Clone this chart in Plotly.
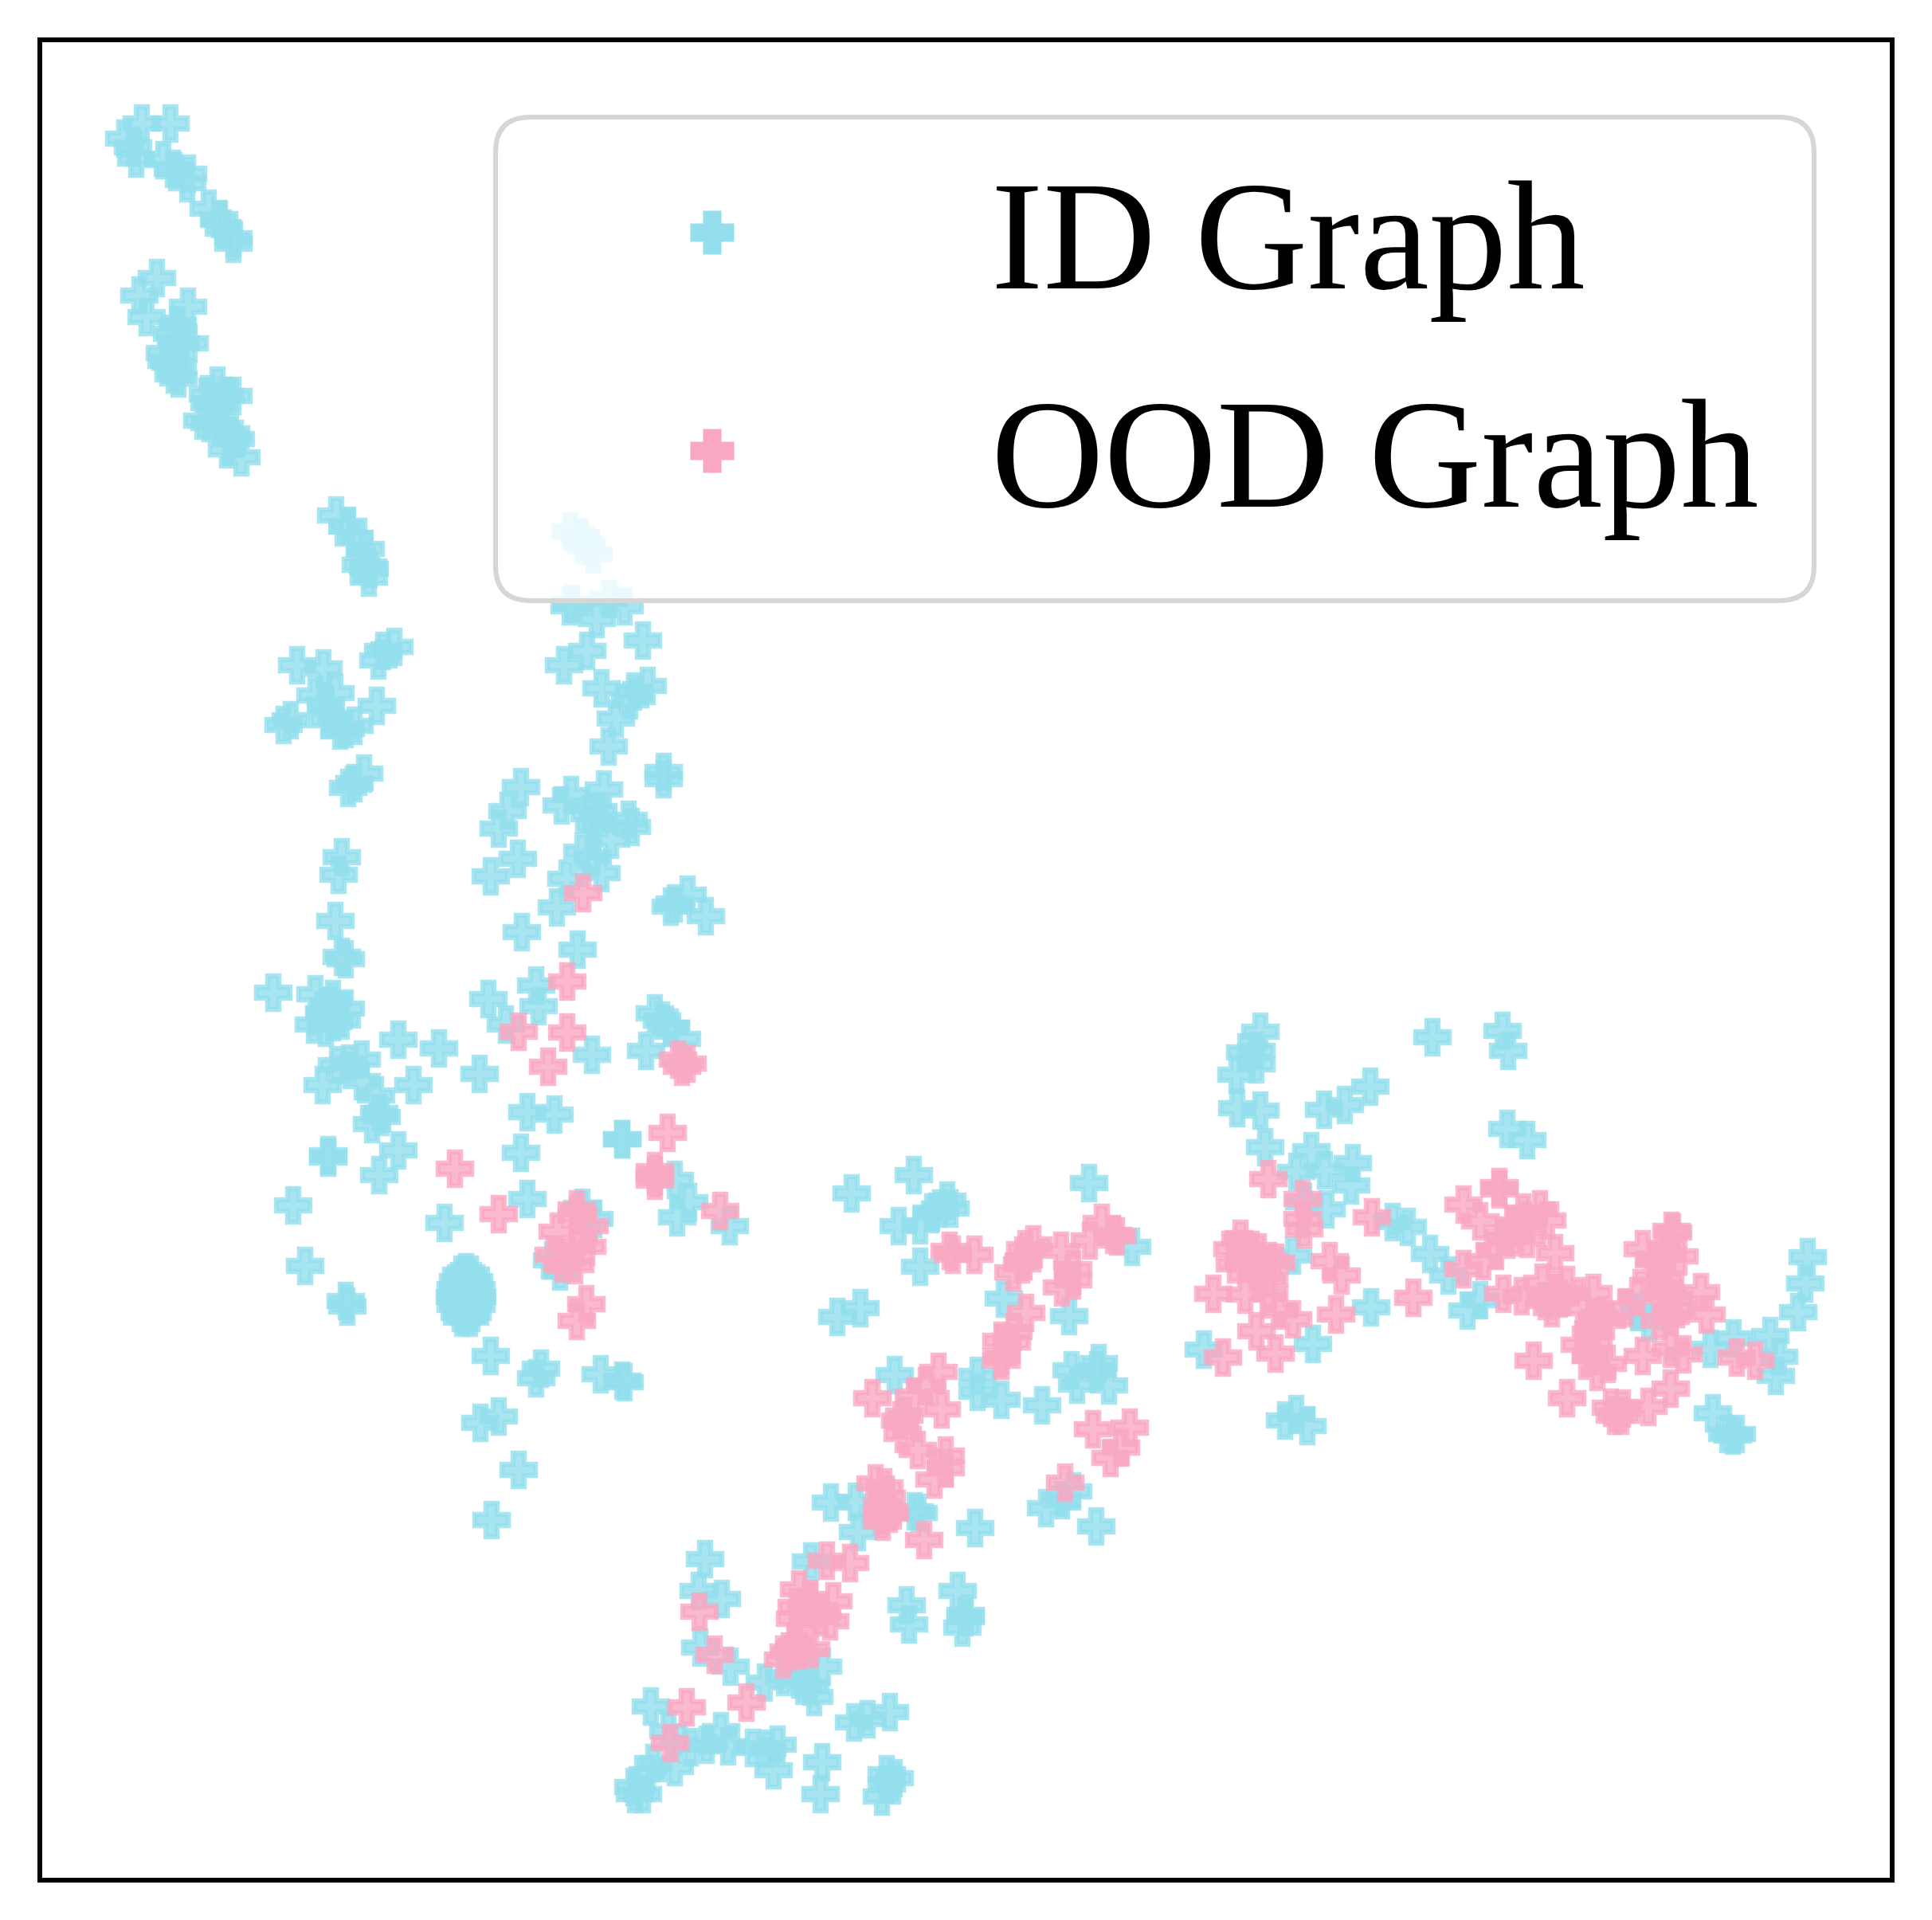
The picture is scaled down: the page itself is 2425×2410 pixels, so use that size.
import plotly.graph_objects as go

id_x = [178,214,156,167,171,205,217,236,235,262,275,281,293,293,
197,175,184,236,223,216,227,238,207,214,223,209,224,218,
273,293,261,263,272,283,254,263,276,290,285,303,296,
422,437,444,459,464,462,463,453,
716,729,736,745,718,765,
715,749,784,807,737,708,755,813,796,791,773,764,
373,406,495,481,475,396,421,473,409,412,356,365,434,445,427,457,445,437,
429,425,421,429,434,
654,637,626,650,616,717,705,758,740,751,746,767,789,793,731,744,755,711,699,833,833,
863,847,842,886,655,725,673,613,676,635,822,831,811,856,842,743,
343,396,418,434,394,418,407,429,414,409,
500,551,602,519,472,454,423,454,405,438,479,467,476,662,696,781,
412,412,500,476,368,383,434,436,654,781,662,558,
585,579,591,575,595,585,572,598,585,571,599,585,572,598,585,577,593,585,580,590,
616,679,673,754,781,784,731,746,703,693,847,865,850,916,
603,626,651,617,
1069,1147,1367,1128,1155,1189,1170,1180,1193,1155,1421,1051,1080,1260,1342,1123,1227,1227,1257,1308,1345,1379,1352,1392,1377,
1043,1148,1313,1347,1333,
1074,1153,1077,1224,1018,885,877,906,1138,1141,1202,1212,1208,1212,879,917,960,984,1003,1033,1017,1022,817,839,905,914,867,887,945,976,963,971,1032,1030,1072,1089,1117,1113,1123,1113,1107,847,813,820,797,795,807,
1376,
1582,1563,1577,1577,1552,1553,1582,1588,1662,1688,1720,1798,1886,1893,1892,1917,
1646,1627,1663,1698,1696,1665,1637,1623,1748,1767,1795,1818,1721,1648,1511,1858,1842,1627,1613,1641,
2269,2266,2257,2176,2222,2233,2229,2147,2150,2168,2180,2175,2070,2057]
id_y = [155,155,174,185,199,201,212,218,230,262,275,287,299,306,
349,371,398,385,408,419,431,431,443,455,462,453,475,470,
484,497,495,506,506,497,528,531,537,544,564,574,551,
647,660,676,689,714,711,725,709,
667,674,685,696,758,752,
761,777,761,804,817,835,864,861,868,879,902,937,
835,839,812,817,829,873,870,886,884,904,910,904,915,911,917,971,983,989,
1076,1098,1156,1201,1204,
988,1018,1040,1078,1100,998,1011,991,1022,1018,1036,1054,1029,1038,1069,1076,1096,1103,1139,978,969,
1123,1134,1138,1150,1170,1192,1237,1254,1263,1286,1272,1281,1319,1304,1290,1324,
1246,1248,1254,1266,1286,1283,1272,1281,1263,1290,
1305,1316,1348,1362,1375,1330,1337,1357,1362,1335,1402,1411,1397,1396,1399,1430,
1453,1450,1444,1475,1513,1589,1633,1640,1447,1430,1505,1535,
1597,1600,1600,1608,1608,1612,1618,1618,1622,1628,1628,1632,1638,1638,1642,1648,1648,1652,1654,1654,
1702,1718,1730,1725,1733,1735,1516,1530,1596,1582,1481,1509,1528,1539,
1786,1778,1845,1908,
1498,1475,1485,1539,1538,1507,1522,1517,1517,1590,1565,1653,1642,1630,1652,1726,1727,1747,1757,1764,1720,1711,1738,1739,1720,
1886,1897,1893,1872,1883,
1885,1899,1923,1918,1960,1957,1997,2007,2015,2039,1997,2030,2043,2027,2068,2092,2112,2105,2108,2092,2117,2130,2142,2173,2173,2192,2193,2190,2194,2190,2195,2222,2212,2252,2162,2158,2149,2227,2232,2240,2255,2218,2227,2213,2252,2243,2252,
1916,
1295,1321,1319,1336,1349,1391,1394,1440,1393,1387,1364,1302,1294,1319,1417,1431,
1445,1471,1469,1460,1488,1518,1509,1576,1534,1540,1574,1601,1641,1687,1694,1632,1645,1775,1783,1790,
1578,1611,1647,1680,1677,1703,1727,1693,1774,1800,1800,1802,1660,1647]

ood_x = [732,712,651,712,688,851,863,856,838,
571,626,822,822,822,904,724,724,700,740,737,724,695,706,722,736,724,
1192,1196,1223,1383,1397,1402,1368,1297,1287,1332,1285,1272,1347,1333,1347,1283,1288,1272,1270,1257,1257,1257,
1178,1162,1147,1095,1182,1130,1135,1133,1152,1187,1187,1173,1372,1418,1407,1394,1337,
1099,1110,1113,1107,1115,1117,1107,1108,1160,1038,1067,878,
1003,1017,1046,1000,998,1017,1042,1030,997,983,990,1003,1018,897,862,937,841,
1592,1635,1635,1637,1722,1557,1547,1563,1580,1593,1550,1602,1563,1580,1593,1523,1563,1593,1605,1623,1577,1601,1535,1677,1669,1684,1774,
1882,1882,1837,1858,1912,1933,1942,1900,1917,1900,1887,1917,1952,1862,1837,1878,
1887,1910,1936,1967,1940,1953,1948,1958,2000,1987,2007,2017,2040,2000,1983,2000,1997,2018,2005,1925,1967,2062,2097,2113,2180,2203,2097,2069,2022,2037,2035,2027,
2098,2100,2062,2093,2108,2077,2073,2090,2090,2055,2102,2135,2105,2142,2083,2097]
ood_y = [1121,1232,1295,1296,1339,1330,1335,1339,1422,
1467,1524,1470,1476,1482,1520,1518,1526,1546,1539,1565,1565,1575,1586,1588,1637,1658,
1570,1575,1575,1535,1550,1552,1557,1562,1568,1570,1582,1597,1593,1616,1607,1587,1648,1672,1685,1702,1683,1708,
1722,1740,1753,1755,1769,1783,1777,1800,1820,1827,1843,1857,1794,1792,1817,1830,1861,
1862,1867,1880,1890,1897,1900,1903,1910,1933,1959,1962,2023,
1995,2007,2010,2017,2032,2023,2035,2030,2063,2083,2073,2072,2070,2077,2143,2137,2188,
1480,1505,1530,1543,1528,1555,1568,1568,1572,1583,1587,1585,1587,1595,1606,1624,1625,1624,1645,1656,1671,1699,1704,1650,1583,1601,1629,
1490,1493,1512,1533,1522,1518,1532,1537,1537,1553,1553,1555,1573,1583,1593,1570,
1624,1627,1610,1613,1633,1620,1642,1630,1623,1642,1653,1658,1642,1667,1688,1687,1702,1712,1722,1708,1755,1702,1693,1700,1704,1708,1743,1766,1767,1768,1777,1777,
1545,1547,1568,1575,1577,1580,1603,1607,1622,1627,1630,1622,1643,1650,1658,1653]

series_names = ["ID Graph", "OOD Graph"]
BLUE, PINK = "#94DEEE", "#F9A7C2"
BLUE_A, PINK_A = "rgba(148,222,238,0.8)", "rgba(249,167,194,0.8)"

def cross(x, y, fill, name, xa="x", ya="y", size=35, lw=6.5):
    return go.Scatter(x=x, y=y, mode="markers", name=name, xaxis=xa, yaxis=ya, showlegend=False,
                      hoverinfo="skip",
                      marker=dict(symbol="cross", size=size, color=fill, line=dict(color=fill, width=lw)))

fig = go.Figure()
fig.add_trace(cross(id_x, id_y, BLUE_A, series_names[0]))
fig.add_trace(cross(ood_x, ood_y, PINK_A, series_names[1]))
# legend key glyphs sit on a second, identical subplot drawn above the data
fig.add_trace(cross([894], [292], BLUE, series_names[0], "x2", "y2", 40, 7))
fig.add_trace(cross([894], [566], PINK, series_names[1], "x2", "y2", 40, 7))

L, T, R, B, C = 622, 147, 2277, 754, 44
box = (f"M{L+C},{T} L{R-C},{T} Q{R},{T} {R},{T+C} L{R},{B-C} Q{R},{B} {R-C},{B} "
       f"L{L+C},{B} Q{L},{B} {L},{B-C} L{L},{T+C} Q{L},{T} {L+C},{T} Z")
fig.add_shape(type="path", path=box, xref="x2", yref="y2", layer="below",
              fillcolor="rgba(255,255,255,0.8)", line=dict(color="#D6D6D6", width=6))

text_font = dict(family="Liberation Serif", size=196, color="black")
for label, base in zip(series_names, [363, 637]):
    fig.add_annotation(x=1243, y=base, xref="x2", yref="y2", text=label, showarrow=False,
                       xanchor="left", yanchor="bottom", yshift=-42, font=text_font, borderpad=0)

W, H = 2425, 2410
PAGE_INSET = 8          # the page body margin that shifts the plot
x0, x1, y0, y1 = 53, 2372, 53, 2357
xdom = [(x0 - PAGE_INSET) / W, (x1 - PAGE_INSET) / W]
ydom = [(H - y1 + PAGE_INSET) / H, (H - y0 + PAGE_INSET) / H]
frame = dict(showline=True, mirror=True, linecolor="black", linewidth=6, ticks="",
             showticklabels=False, showgrid=False, zeroline=False)
fig.update_layout(
    width=W, height=H, margin=dict(l=0, r=0, t=0, b=0), autosize=False,
    paper_bgcolor="white", plot_bgcolor="rgba(0,0,0,0)", showlegend=False,
    xaxis=dict(domain=xdom, range=[x0, x1], anchor="y", **frame),
    yaxis=dict(domain=ydom, range=[y1, y0], anchor="x", **frame),
    xaxis2=dict(domain=xdom, range=[x0, x1], anchor="y2", visible=False),
    yaxis2=dict(domain=ydom, range=[y1, y0], anchor="x2", visible=False),
)
fig.write_html("out.html")
